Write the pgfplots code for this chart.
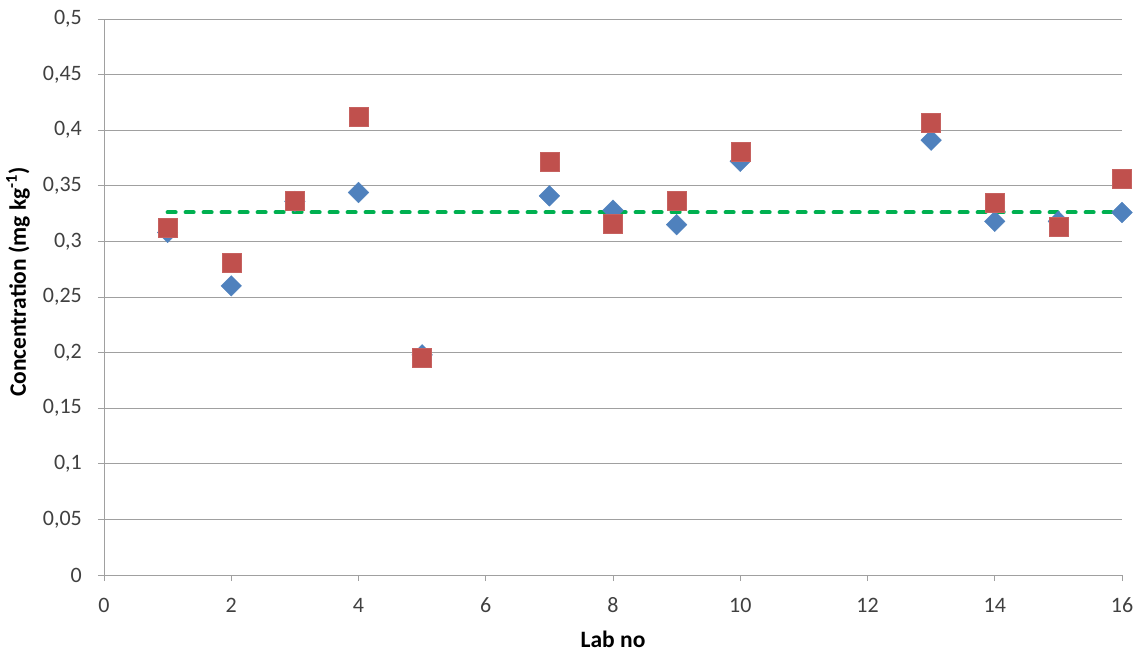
\documentclass[border=0pt]{standalone}
\usepackage{pgfplots}
\pgfplotsset{compat=1.18}
\usepackage{fontspec}
\setmainfont{Carlito}
\definecolor{sblue}{HTML}{4F81BD}
\definecolor{sred}{HTML}{C0504D}
\definecolor{sgreen}{HTML}{00B050}
\definecolor{gridc}{HTML}{A0A0A0}
\begin{document}
\begin{tikzpicture}
\begin{axis}[
  scale only axis,
  width=1018pt, height=556pt,
  xmin=0, xmax=16, ymin=0, ymax=0.5,
  xtick={0,2,...,16},
  ytick={0,0.05,...,0.5},
  /pgf/number format/use comma,
  /pgf/number format/fixed,
  /pgf/number format/precision=2,
  /pgf/number format/assume math mode=true,
  tick label style={font=\fontsize{22}{24}\selectfont, text=black!75},
  yticklabel style={anchor=east, inner sep=0pt, xshift=-16pt},
  xticklabel style={anchor=center, inner sep=0pt, yshift=-24pt},
  tick style={gridc, line width=0.8pt},
  tick align=outside,
  major tick length=6pt,
  axis x line*=bottom,
  axis y line*=left,
  axis line style={gridc, line width=0.8pt},
  ymajorgrids,
  grid style={gridc, line width=0.8pt},
  xlabel={\textbf{Lab no}},
  ylabel={\textbf{Concentration (mg kg\textsuperscript{-1})}},
  label style={font=\fontsize{23.5}{26}\selectfont},
  xlabel style={at={(axis description cs:0.5,-0.116)}, anchor=center},
  ylabel style={at={(axis description cs:-0.0845,0.527)}, anchor=center},
  clip=false,
]
\addplot[only marks, mark=square*, mark size=7.3pt, color=sblue, mark options={draw=sblue, fill=sblue, rotate=45}] coordinates {
(1,0.308) (2,0.260) (3,0.336) (4,0.344) (5,0.198) (7,0.341) (8,0.328) (9,0.315) (10,0.372) (13,0.391) (14,0.318) (15,0.318) (16,0.326)
};
\addplot[only marks, mark=square*, mark size=9.5pt, color=sred, mark options={draw=sred!90!white, fill=sred}] coordinates {
(1,0.312) (2,0.281) (3,0.337) (4,0.412) (5,0.195) (7,0.372) (8,0.316) (9,0.337) (10,0.381) (13,0.407) (14,0.335) (15,0.313) (16,0.356)
};
\addplot[sgreen, line width=4pt, dash pattern=on 8pt off 10pt, line cap=round, no marks] coordinates {
(1,0.326) (16,0.326)
};
\end{axis}
\path (current axis.north east) ++(23pt,19pt);
\path (current axis.south west) ++(-104pt,-79pt);
\end{tikzpicture}
\end{document}
